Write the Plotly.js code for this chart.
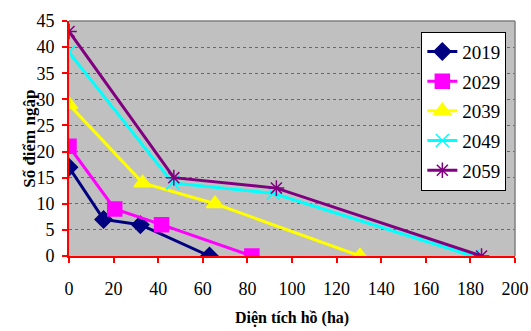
<!DOCTYPE html>
<html><head><meta charset="utf-8">
<script src="https://cdn.plot.ly/plotly-3.0.1.min.js"></script>
<style>html,body{margin:0;padding:0;background:#fff}#c{width:531px;height:331px}</style>
</head><body><div id="c"></div>
<script>
const seriesNames = ["2019","2029","2039","2049","2059"];
const x2019 = [0, 15.5, 32, 63];   const y2019 = [17, 7, 6, 0];
const x2029 = [0, 20.5, 41.5, 82]; const y2029 = [21, 9, 6, 0];
const x2039 = [0, 33, 65.5, 130.5]; const y2039 = [29, 14, 10, 0];
const x2049 = [0, 46.5, 91.5, 181]; const y2049 = [39, 14, 12, 0];
const x2059 = [0, 47, 93, 185];    const y2059 = [43, 15, 13, 0];
const xTitle = "Diện tích hồ (ha)";
const yTitle = "Số điểm ngập";

const colors = ["#000080","#FF00FF","#FFFF00","#00FFFF","#800080"];
const symbols = ["diamond","square","triangle-up","x-thin-open","asterisk-open"];
const sizes = [13,14,15,13,13];
const xs = [x2019,x2029,x2039,x2049,x2059];
const ys = [y2019,y2029,y2039,y2049,y2059];

const traces = seriesNames.map((n,i)=>({
  x: xs[i], y: ys[i], name: n, legendgroup: "g"+i, type:"scatter", mode:"lines+markers",
  line:{color:colors[i], width:3},
  marker:{symbol:symbols[i], size:sizes[i], color:colors[i], line:{color:colors[i], width:1.5}}
}));

const serif = '"Liberation Serif", "Times New Roman", serif';
const layout = {
  width:531, height:331,
  margin:{l:69, r:16, t:21, b:75},
  paper_bgcolor:"#fff", plot_bgcolor:"#C0C0C0",
  showlegend:true,
  legend:{x:0.79, y:0.955, xanchor:"left", yanchor:"top", bgcolor:"#fff",
    bordercolor:"#000", borderwidth:1, font:{family:serif, size:19, color:"#000"},
    tracegroupgap:2, itemwidth:30},
  xaxis:{range:[0,200], dtick:20, tick0:0, showgrid:false, zeroline:false,
    showline:true, linecolor:"#FF0000", linewidth:2,
    ticks:"outside", ticklen:5, tickcolor:"#FF0000", tickwidth:2,
    ticklabelstandoff:10,
    tickfont:{family:serif, size:18, color:"#000"},
    title:{text:xTitle, font:{family:serif, size:16, color:"#000", weight:"bold"}, standoff:14}},
  yaxis:{range:[0,45], dtick:5, tick0:0, showgrid:true, gridcolor:"#FF00FF", gridwidth:1, griddash:"3px,3px",
    zeroline:false, showline:true, linecolor:"#FF0000", linewidth:2,
    ticks:"outside", ticklen:5, tickcolor:"#FF0000", tickwidth:2,
    ticklabelstandoff:4,
    tickfont:{family:serif, size:18, color:"#000"}},
  annotations:[
    {text:yTitle, xref:"paper", yref:"paper", x:-0.089, y:0.5, xanchor:"center", yanchor:"middle",
     textangle:-90, showarrow:false, font:{family:serif, size:17, color:"#000", weight:"bold"}}
  ],
  shapes:[
    {type:"line", xref:"paper", yref:"paper", x0:0, x1:1, y0:1, y1:1, line:{color:"#808080", width:1.5}},
    {type:"line", xref:"paper", yref:"paper", x0:1, x1:1, y0:0, y1:1, line:{color:"#808080", width:1.5}}
  ]
};
Plotly.newPlot("c", traces, layout, {displayModeBar:false, staticPlot:true});
</script></body></html>
